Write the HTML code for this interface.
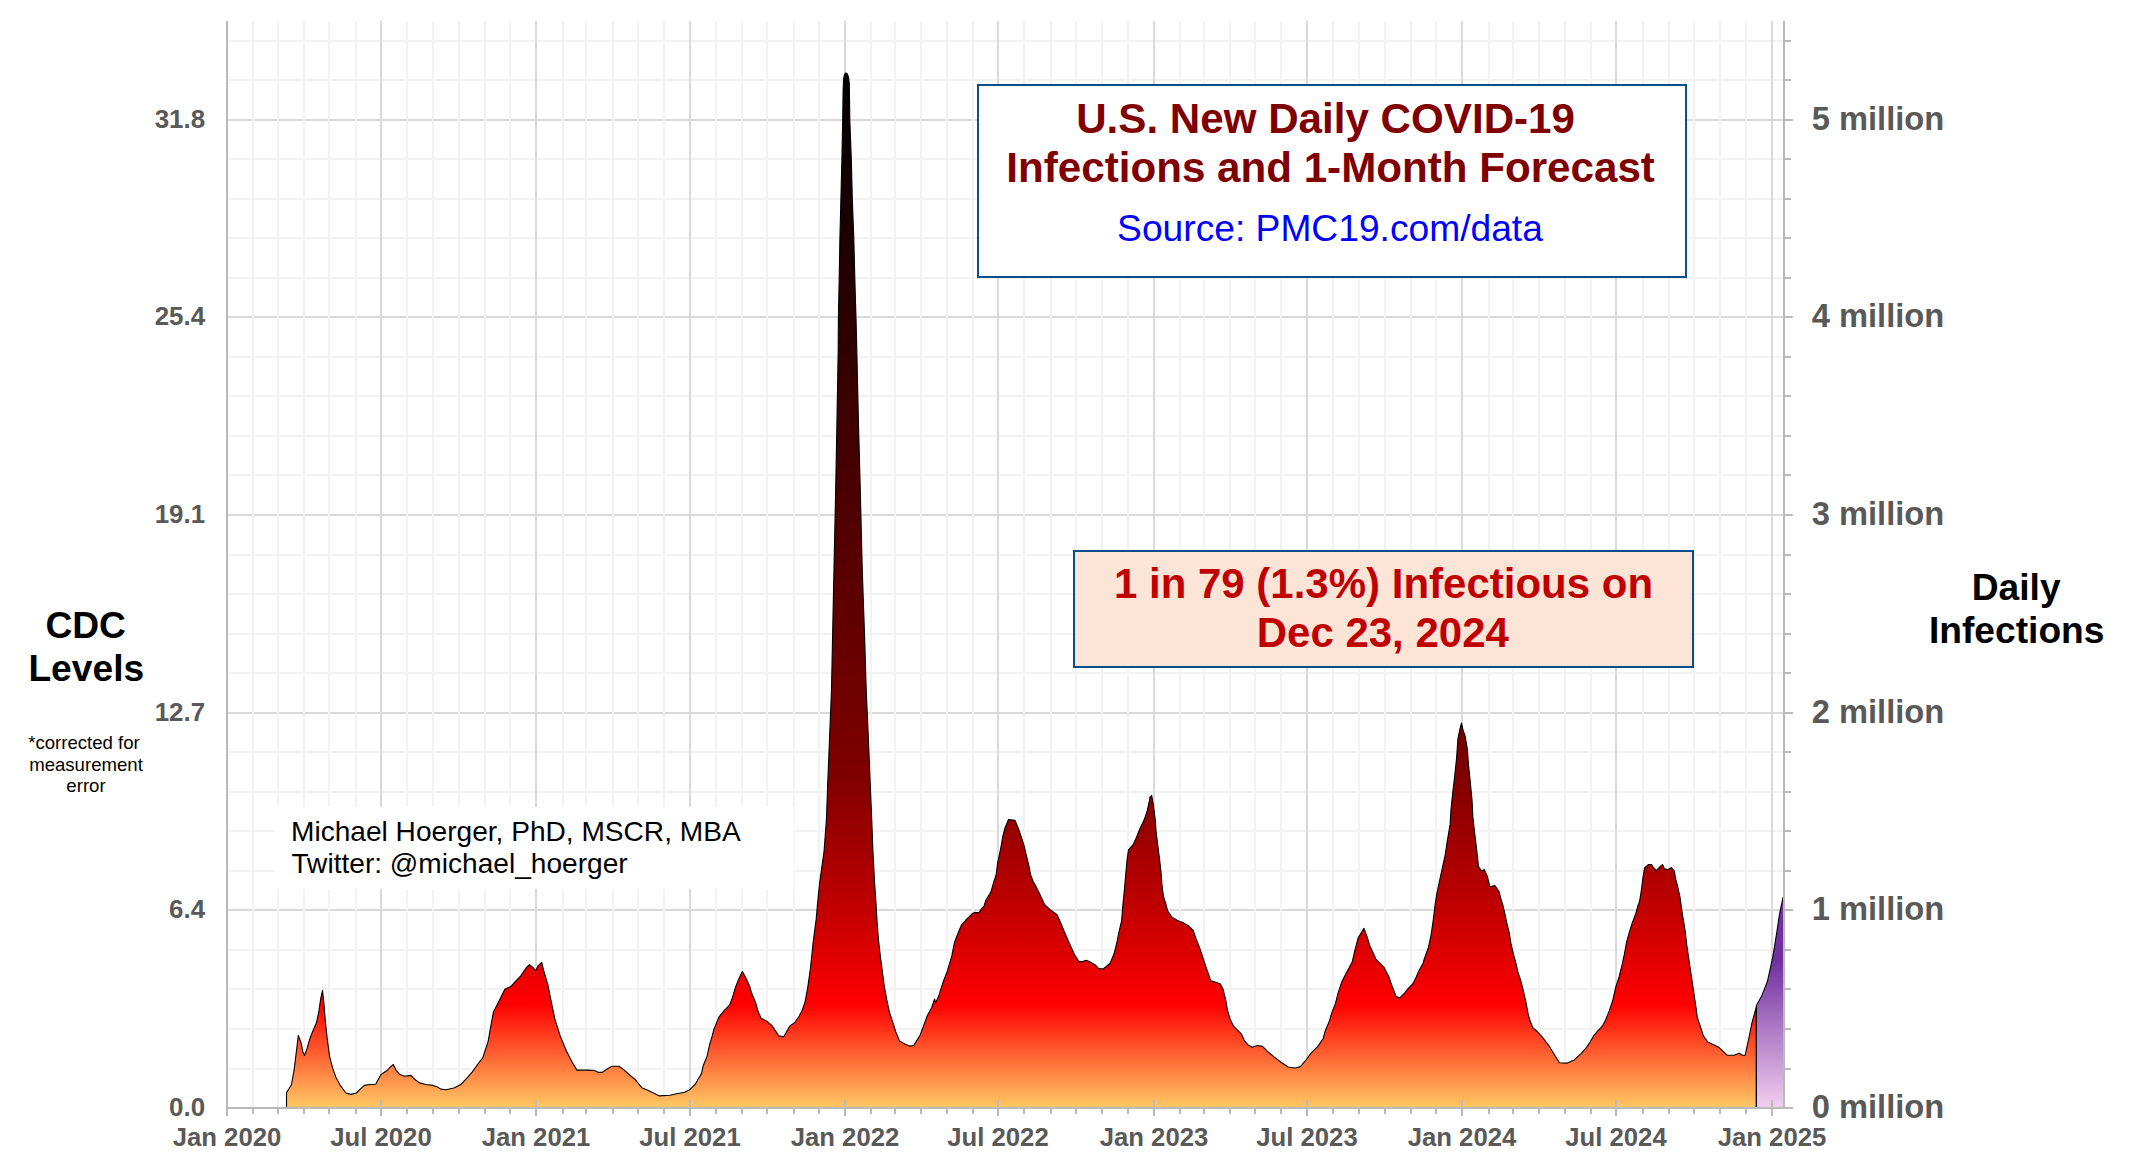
<!DOCTYPE html>
<html lang="en"><head><meta charset="utf-8"><title>U.S. New Daily COVID-19 Infections and 1-Month Forecast</title>
<style>html,body{margin:0;padding:0;background:#fff;}body{width:2135px;height:1169px;overflow:hidden;font-family:"Liberation Sans",Arial,sans-serif;}svg{display:block;}</style>
</head><body>
<svg width="2135" height="1169" viewBox="0 0 2135 1169" font-family="'Liberation Sans', Arial, sans-serif">
<defs>
<linearGradient id="gr" gradientUnits="userSpaceOnUse" x1="0" y1="72" x2="0" y2="1108">
<stop offset="0" stop-color="#000000"/>
<stop offset="0.27" stop-color="#330000"/>
<stop offset="0.55" stop-color="#660000"/>
<stop offset="0.68" stop-color="#800000"/>
<stop offset="0.805" stop-color="#C00000"/>
<stop offset="0.90" stop-color="#FF0000"/>
<stop offset="1" stop-color="#FFC966"/>
</linearGradient>
<linearGradient id="gp" gradientUnits="userSpaceOnUse" x1="0" y1="897" x2="0" y2="1108">
<stop offset="0" stop-color="#7030A0"/>
<stop offset="0.3" stop-color="#7030A0"/>
<stop offset="1" stop-color="#F2CEEF"/>
</linearGradient>
</defs>
<rect width="2135" height="1169" fill="#fff"/>
<path d="M227 910.0H1784M227 713.0H1784M227 515.0H1784M227 317.0H1784M227 120.0H1784" stroke="#D9D9D9" stroke-width="2" fill="none"/>
<path d="M227 1069.0H1784M227 1029.0H1784M227 989.0H1784M227 950.0H1784M227 871.0H1784M227 831.0H1784M227 792.0H1784M227 752.0H1784M227 673.0H1784M227 634.0H1784M227 594.0H1784M227 555.0H1784M227 475.0H1784M227 436.0H1784M227 396.0H1784M227 357.0H1784M227 278.0H1784M227 238.0H1784M227 199.0H1784M227 159.0H1784M227 80.0H1784M227 41.0H1784" stroke="#F2F2F2" stroke-width="2" fill="none"/>
<path d="M381.0 21V1108M536.0 21V1108M690.0 21V1108M845.0 21V1108M998.0 21V1108M1154.0 21V1108M1307.0 21V1108M1462.0 21V1108M1616.0 21V1108M1772.0 21V1108" stroke="#D9D9D9" stroke-width="2" fill="none"/>
<path d="M253.0 21V1108M278.0 21V1108M304.0 21V1108M329.0 21V1108M356.0 21V1108M407.0 21V1108M433.0 21V1108M459.0 21V1108M485.0 21V1108M510.0 21V1108M563.0 21V1108M586.0 21V1108M613.0 21V1108M638.0 21V1108M664.0 21V1108M716.0 21V1108M742.0 21V1108M767.0 21V1108M794.0 21V1108M819.0 21V1108M871.0 21V1108M895.0 21V1108M921.0 21V1108M947.0 21V1108M973.0 21V1108M1024.0 21V1108M1051.0 21V1108M1076.0 21V1108M1102.0 21V1108M1128.0 21V1108M1180.0 21V1108M1204.0 21V1108M1230.0 21V1108M1255.0 21V1108M1281.0 21V1108M1333.0 21V1108M1359.0 21V1108M1385.0 21V1108M1411.0 21V1108M1436.0 21V1108M1489.0 21V1108M1513.0 21V1108M1539.0 21V1108M1565.0 21V1108M1591.0 21V1108M1643.0 21V1108M1669.0 21V1108M1694.0 21V1108M1720.0 21V1108M1746.0 21V1108" stroke="#F2F2F2" stroke-width="2" fill="none"/>
<rect x="275.1" y="806.9" width="519.1" height="82" fill="#fff"/>
<path d="M286.5 1108L286.5 1092.6L291.4 1085.0L294.1 1070.1L296.7 1049.0L298.3 1035.3L301.1 1042.9L302.8 1051.7L304.6 1055.4L307.2 1048.2L309.9 1038.5L313.4 1029.7L316.5 1022.7L319.0 1010.4L320.8 998.1L322.5 990.4L323.9 1003.4L325.3 1020.9L327.4 1040.3L329.7 1056.9L332.7 1068.4L336.2 1078.0L340.6 1085.9L345.9 1093.0L350.8 1094.4L356.4 1093.0L360.8 1088.6L364.3 1085.4L369.6 1084.5L375.7 1084.2L381.0 1074.5L387.1 1070.5L390.7 1066.6L393.3 1064.5L395.9 1069.8L399.4 1074.2L404.7 1076.3L410.9 1075.4L415.3 1079.8L419.6 1082.9L425.8 1084.5L432.8 1085.4L437.2 1086.8L440.7 1089.1L446.0 1089.8L453.9 1088.0L460.9 1084.5L466.2 1078.9L472.3 1071.9L476.7 1065.7L482.9 1057.5L488.2 1041.1L490.8 1026.2L493.4 1012.1L499.6 999.9L504.8 989.3L511.0 986.3L515.4 981.4L520.6 976.1L525.9 968.2L529.4 964.7L532.9 967.4L535.6 970.9L538.2 965.6L541.7 962.4L543.5 970.0L547.9 984.9L550.5 998.1L554.9 1019.2L560.2 1035.9L566.3 1050.8L571.6 1061.3L576.9 1070.1L588.3 1070.1L594.4 1070.5L598.8 1072.4L602.3 1072.4L606.7 1069.2L612.0 1066.3L619.0 1066.3L624.3 1070.1L629.6 1075.0L634.8 1079.2L641.8 1087.7L648.9 1090.8L655.0 1093.8L659.3 1095.9L669.9 1095.2L677.8 1093.5L684.8 1092.2L690.1 1089.4L695.3 1084.2L698.8 1078.0L701.5 1073.6L703.2 1065.7L707.1 1056.1L709.4 1045.5L712.0 1036.7L713.8 1029.7L718.7 1017.4L724.3 1010.4L729.6 1005.1L732.2 998.1L735.7 986.7L739.2 977.9L742.4 971.4L746.3 978.8L749.8 986.7L751.5 992.8L755.9 1003.4L758.0 1011.3L761.2 1018.3L766.5 1020.9L771.7 1025.3L775.3 1030.6L778.8 1035.9L783.7 1036.7L786.7 1031.5L789.8 1025.9L794.6 1022.7L799.0 1016.5L802.5 1009.5L805.1 1001.6L807.7 987.6L810.0 971.7L811.8 955.9L813.0 943.6L814.8 929.6L816.2 919.1L817.4 905.0L817.4 905.3L819.6 883.0L824.1 850.8L826.5 818.5L827.5 788.8L829.5 739.2L831.5 689.6L832.5 640.0L834.0 568.2L835.5 498.8L836.9 424.4L838.2 350.0L838.4 317.9L839.2 278.2L839.9 238.5L840.9 198.9L841.9 159.2L842.7 119.5L843.1 89.8L843.6 78.6L844.6 74.4L845.9 72.9L847.4 73.9L848.6 77.4L849.3 83.6L849.8 119.5L851.3 159.2L852.3 198.9L853.8 238.5L854.8 278.2L856.0 317.9L856.8 350.0L858.5 424.4L860.5 498.8L862.2 568.2L864.7 640.0L866.2 689.6L868.4 739.2L870.4 788.8L871.7 818.5L872.9 850.8L874.6 883.0L876.1 905.1L877.1 922.6L878.5 940.1L880.3 955.9L882.4 971.7L884.2 985.8L886.8 999.9L889.4 1012.1L892.9 1022.7L895.6 1031.5L899.6 1041.1L905.2 1044.3L909.6 1046.1L913.7 1045.5L917.5 1039.4L920.2 1035.0L922.8 1028.0L925.4 1020.9L927.2 1015.7L931.6 1007.8L934.6 999.0L935.6 1003.0L938.6 996.3L943.0 982.3L947.4 970.9L951.8 955.9L954.4 942.8L958.8 931.3L961.4 925.2L966.7 919.1L972.0 913.8L974.6 912.4L979.0 912.9L981.6 908.5L984.3 905.9L984.3 904.9L986.0 900.0L990.9 892.1L993.6 882.4L996.2 874.5L997.6 863.1L1000.6 849.0L1002.9 835.9L1005.0 828.0L1008.5 819.5L1015.0 820.4L1018.2 828.0L1021.2 836.7L1024.3 846.4L1026.1 854.3L1028.7 864.8L1030.5 874.5L1033.1 881.5L1035.7 885.9L1040.1 894.7L1044.5 904.4L1050.9 910.3L1057.1 914.7L1060.6 922.6L1064.1 931.3L1067.6 939.3L1071.1 947.2L1074.7 955.1L1079.0 961.6L1082.6 961.6L1086.1 960.3L1090.5 962.1L1094.9 964.7L1098.4 968.2L1102.8 969.1L1106.3 966.5L1110.3 963.0L1114.2 953.3L1116.8 942.8L1119.1 931.3L1121.6 920.8L1123.0 903.5L1124.1 893.0L1125.8 873.6L1127.1 859.6L1128.5 849.9L1133.2 844.6L1136.7 836.7L1140.2 828.0L1144.1 820.1L1147.3 810.4L1149.4 800.7L1149.9 797.2L1151.7 795.5L1153.4 805.1L1155.2 819.2L1156.1 831.5L1157.8 845.5L1159.6 859.6L1161.0 871.9L1161.9 884.2L1163.4 896.5L1165.7 903.5L1167.7 911.1L1172.1 917.3L1177.4 920.5L1182.7 922.6L1188.8 926.1L1193.2 930.5L1195.9 938.4L1199.4 947.2L1202.9 957.7L1206.4 968.2L1210.8 980.9L1216.1 982.3L1220.4 984.0L1223.1 989.3L1225.7 999.9L1227.5 1010.4L1230.1 1019.2L1233.6 1026.2L1238.0 1030.6L1241.5 1034.1L1244.2 1040.3L1247.7 1044.6L1252.1 1047.3L1257.3 1045.5L1262.6 1046.4L1267.0 1050.8L1274.0 1056.9L1281.0 1062.2L1288.1 1067.0L1295.1 1068.0L1300.4 1066.6L1305.6 1060.5L1310.9 1053.4L1317.9 1046.4L1323.2 1038.5L1325.0 1031.5L1329.4 1020.9L1332.0 1012.1L1335.5 1003.4L1338.1 992.8L1341.6 982.3L1346.0 973.5L1352.2 962.1L1354.8 950.7L1358.3 937.5L1364.0 928.4L1367.0 936.6L1369.7 945.4L1374.9 956.8L1375.8 959.1L1383.7 966.8L1389.0 977.0L1391.6 984.9L1396.0 996.3L1399.5 998.1L1404.8 992.8L1407.4 989.3L1412.7 984.0L1416.2 977.0L1418.8 970.9L1423.2 963.0L1424.1 959.5L1428.5 947.2L1431.1 934.9L1432.9 922.6L1434.7 908.5L1435.1 904.9L1436.9 893.0L1440.0 878.9L1443.0 864.8L1445.3 854.3L1447.4 840.3L1450.1 824.4L1450.9 810.4L1452.7 792.8L1454.8 775.3L1456.6 757.7L1458.0 738.4L1460.2 727.8L1461.5 723.1L1462.9 729.6L1465.0 735.7L1467.3 748.9L1468.5 764.7L1470.3 782.3L1472.0 799.9L1472.9 817.4L1474.7 833.2L1476.8 850.8L1478.5 866.6L1481.7 871.0L1484.3 869.6L1487.3 876.3L1489.9 886.8L1494.9 885.6L1498.9 891.2L1501.0 899.1L1502.8 904.9L1504.9 913.8L1506.7 922.6L1509.3 933.1L1511.1 944.5L1513.7 955.1L1516.3 964.7L1517.6 970.9L1520.7 980.5L1523.4 991.1L1526.0 1002.5L1528.3 1014.8L1530.4 1021.8L1533.0 1028.0L1537.4 1031.5L1542.7 1037.6L1548.8 1045.5L1554.1 1054.3L1559.4 1062.7L1567.3 1063.1L1574.3 1059.9L1581.3 1053.4L1586.6 1047.3L1590.1 1042.0L1593.6 1035.9L1598.0 1030.6L1602.4 1026.2L1605.9 1019.2L1609.4 1010.4L1612.9 999.9L1615.6 987.6L1619.1 977.0L1621.7 966.5L1624.4 954.2L1626.6 941.9L1629.6 931.3L1632.3 922.6L1635.8 913.8L1638.1 905.0L1638.9 903.5L1639.8 900.0L1641.5 889.4L1642.9 878.0L1644.5 868.0L1648.6 864.5L1651.5 864.5L1653.8 868.0L1656.5 870.5L1660.0 866.6L1662.6 864.5L1664.4 868.9L1667.9 869.6L1671.4 867.5L1674.4 871.0L1675.4 878.0L1677.5 885.9L1680.2 898.2L1680.9 903.5L1682.3 913.8L1685.0 929.6L1686.7 944.5L1689.4 963.0L1692.0 980.5L1694.6 998.1L1696.4 1010.4L1697.3 1017.4L1700.8 1028.0L1703.4 1035.9L1707.8 1042.0L1713.1 1044.6L1718.3 1046.9L1722.7 1050.8L1727.1 1055.2L1733.9 1055.3L1739.3 1053.3L1742.3 1055.3L1745.1 1055.3L1748.3 1040.8L1752.0 1022.7L1756.4 1006.6L1756.4 1108Z" fill="url(#gr)" stroke="#000" stroke-width="1.1" stroke-linejoin="round"/>
<path d="M1756.4 1108L1756.4 1005.6L1761.4 996.6L1767.4 981.5L1772.9 956.4L1776.5 934.3L1779.5 914.2L1783.1 897.1L1783.1 1108Z" fill="url(#gp)"/>
<path d="M1756.4 1108V1005.6" stroke="#000" stroke-width="1.2" fill="none"/>
<path d="M1756.4 1005.6L1761.4 996.6L1767.4 981.5L1772.9 956.4L1776.5 934.3L1779.5 914.2L1783.1 897.1" stroke="#000" stroke-width="1.1" fill="none"/>
<path d="M227 21V1116M226 1108H1793M1784 21V1109M381.0 1100V1116M536.0 1100V1116M690.0 1100V1116M845.0 1100V1116M998.0 1100V1116M1154.0 1100V1116M1307.0 1100V1116M1462.0 1100V1116M1616.0 1100V1116M1772.0 1100V1116M253.0 1108V1114M278.0 1108V1114M304.0 1108V1114M329.0 1108V1114M356.0 1108V1114M407.0 1108V1114M433.0 1108V1114M459.0 1108V1114M485.0 1108V1114M510.0 1108V1114M563.0 1108V1114M586.0 1108V1114M613.0 1108V1114M638.0 1108V1114M664.0 1108V1114M716.0 1108V1114M742.0 1108V1114M767.0 1108V1114M794.0 1108V1114M819.0 1108V1114M871.0 1108V1114M895.0 1108V1114M921.0 1108V1114M947.0 1108V1114M973.0 1108V1114M1024.0 1108V1114M1051.0 1108V1114M1076.0 1108V1114M1102.0 1108V1114M1128.0 1108V1114M1180.0 1108V1114M1204.0 1108V1114M1230.0 1108V1114M1255.0 1108V1114M1281.0 1108V1114M1333.0 1108V1114M1359.0 1108V1114M1385.0 1108V1114M1411.0 1108V1114M1436.0 1108V1114M1489.0 1108V1114M1513.0 1108V1114M1539.0 1108V1114M1565.0 1108V1114M1591.0 1108V1114M1643.0 1108V1114M1669.0 1108V1114M1694.0 1108V1114M1720.0 1108V1114M1746.0 1108V1114M1784 910.0H1793M1784 713.0H1793M1784 515.0H1793M1784 317.0H1793M1784 120.0H1793M1784 1069.0H1791M1784 1029.0H1791M1784 989.0H1791M1784 950.0H1791M1784 871.0H1791M1784 831.0H1791M1784 792.0H1791M1784 752.0H1791M1784 673.0H1791M1784 634.0H1791M1784 594.0H1791M1784 555.0H1791M1784 475.0H1791M1784 436.0H1791M1784 396.0H1791M1784 357.0H1791M1784 278.0H1791M1784 238.0H1791M1784 199.0H1791M1784 159.0H1791M1784 80.0H1791M1784 41.0H1791" stroke="#BABABA" stroke-width="2" fill="none"/>
<g font-weight="bold" fill="#595959">
<g font-size="25.9" text-anchor="end">
<text x="205.1" y="1115.9">0.0</text>
<text x="205.1" y="917.9">6.4</text>
<text x="205.1" y="720.9">12.7</text>
<text x="205.1" y="522.9">19.1</text>
<text x="205.1" y="324.9">25.4</text>
<text x="205.1" y="127.9">31.8</text>
</g>
<g font-size="32.7">
<text x="1811.7" y="1118.4">0 million</text>
<text x="1811.7" y="920.4">1 million</text>
<text x="1811.7" y="723.4">2 million</text>
<text x="1811.7" y="525.4">3 million</text>
<text x="1811.7" y="327.4">4 million</text>
<text x="1811.7" y="130.4">5 million</text>
</g>
<g font-size="25.7" text-anchor="middle">
<text x="227.0" y="1146.4">Jan 2020</text>
<text x="381.0" y="1146.4">Jul 2020</text>
<text x="536.0" y="1146.4">Jan 2021</text>
<text x="690.0" y="1146.4">Jul 2021</text>
<text x="845.0" y="1146.4">Jan 2022</text>
<text x="998.0" y="1146.4">Jul 2022</text>
<text x="1154.0" y="1146.4">Jan 2023</text>
<text x="1307.0" y="1146.4">Jul 2023</text>
<text x="1462.0" y="1146.4">Jan 2024</text>
<text x="1616.0" y="1146.4">Jul 2024</text>
<text x="1772.0" y="1146.4">Jan 2025</text>
</g></g>
<g font-weight="bold" fill="#000" text-anchor="middle" font-size="37.2">
<text x="85.7" y="637.6">CDC</text><text x="86.3" y="680.8">Levels</text>
<text x="2016.2" y="600.0">Daily</text><text x="2016.7" y="642.7">Infections</text>
</g>
<g fill="#000" text-anchor="middle" font-size="18.6">
<text x="84" y="748.7">*corrected for</text><text x="86" y="770.8">measurement</text><text x="86" y="791.6">error</text>
</g>
<g fill="#000" font-size="28.1"><text x="291" y="841.2">Michael Hoerger, PhD, MSCR, MBA</text><text x="291.5" y="872.9">Twitter: @michael_hoerger</text></g>
<rect x="978" y="85" width="708" height="192" fill="#fff" stroke="#0C4E8D" stroke-width="2"/>
<g font-weight="bold" fill="#800000" text-anchor="middle" font-size="42.15"><text x="1325.6" y="133.2">U.S. New Daily COVID-19</text><text x="1330.6" y="181.7">Infections and 1-Month Forecast</text></g>
<text x="1330" y="241.1" fill="#0000FF" text-anchor="middle" font-size="37.2">Source: PMC19.com/data</text>
<rect x="1074" y="551" width="619" height="116" fill="#FCE4D6" stroke="#0C4E8D" stroke-width="2"/>
<g font-weight="bold" fill="#C00000" text-anchor="middle" font-size="42.0"><text x="1383.5" y="597.5">1 in 79 (1.3%) Infectious on</text><text x="1382.8" y="646.7">Dec 23, 2024</text></g>
</svg>
</body></html>
